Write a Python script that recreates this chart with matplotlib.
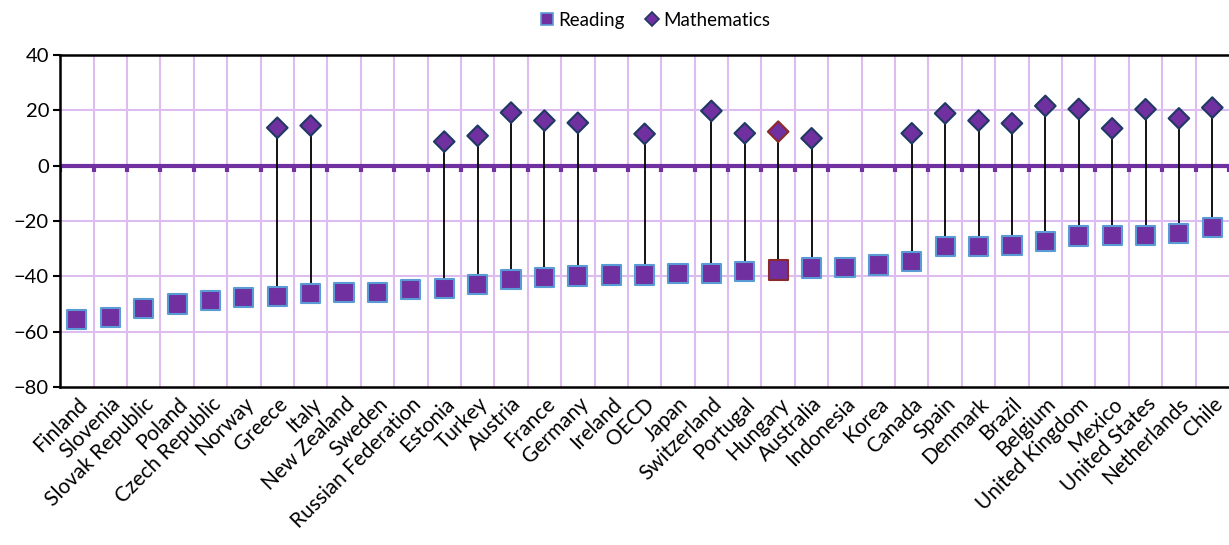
import matplotlib
matplotlib.use("Agg")
import matplotlib.pyplot as plt
from matplotlib.lines import Line2D
import numpy as np

countries = ["Finland", "Slovenia", "Slovak Republic", "Poland", "Czech Republic", "Norway",
             "Greece", "Italy", "New Zealand", "Sweden", "Russian Federation", "Estonia",
             "Turkey", "Austria", "France", "Germany", "Ireland", "OECD", "Japan",
             "Switzerland", "Portugal", "Hungary", "Australia", "Indonesia", "Korea",
             "Canada", "Spain", "Denmark", "Brazil", "Belgium", "United Kingdom", "Mexico",
             "United States", "Netherlands", "Chile"]

reading = [-55.5, -55.0, -51.5, -50.0, -48.8, -47.6, -47.4, -46.1, -46.0, -45.9, -44.9,
           -44.4, -43.1, -41.3, -40.5, -39.9, -39.5, -39.5, -39.1, -39.0, -38.3, -37.7,
           -37.0, -36.9, -35.9, -34.7, -29.3, -29.2, -29.0, -27.5, -25.4, -25.3, -25.1,
           -24.4, -22.4]

# nan = no mathematics marker for that country
nan = np.nan
maths = [nan, nan, nan, nan, nan, nan, 13.7, 14.5, nan, nan, nan, 8.7, 10.8, 19.2,
         16.3, 15.5, nan, 11.5, nan, 19.8, 11.7, 12.3, 9.9, nan, nan, 11.7, 18.9, 16.3,
         15.3, 21.6, 20.5, 13.5, 20.4, 17.1, 21.0]

highlight = "Hungary"

purple = "#7030A0"
grid_col = "#DDBDF0"

plt.rcParams['font.family'] = ['Lato', 'DejaVu Sans']

fig = plt.figure(figsize=(12.29, 5.45), dpi=100)
ax = fig.add_axes([0.049, 0.29, 0.951, 0.609])

x = np.arange(len(countries))
reading = np.array(reading)
maths = np.array(maths)
has_m = ~np.isnan(maths)

# grid
for yv in np.arange(-60, 40, 20):
    ax.axhline(yv, color=grid_col, lw=1.5, zorder=0)
ax.vlines(np.arange(0.5, len(countries) - 0.5, 1), -80, 40, color=grid_col, lw=1.5, zorder=0)

# zero line with its ticks
ax.axhline(0, color=purple, lw=3, zorder=2)
ax.vlines(np.arange(-0.5, len(countries) + 0.5, 1), -2.2, 0, color=purple, lw=3, zorder=2)

# stems between reading and maths
ax.vlines(x[has_m], reading[has_m], maths[has_m], color="black", lw=1.3, zorder=3)

edge_r = ["#8B2A2A" if c == highlight else "#5B9BD5" for c in countries]
edge_m = ["#8B2A2A" if c == highlight else "#1F3864" for c in countries]

ax.scatter(x, reading, marker="s", s=190, c=purple, edgecolors=edge_r, linewidths=1.5, zorder=4)
ax.scatter(x[has_m], maths[has_m], marker="D", s=110, c=purple,
           edgecolors=[e for e, h in zip(edge_m, has_m) if h], linewidths=1.5, zorder=4)

ax.set_xlim(-0.5, len(countries) - 0.5)
ax.set_ylim(-80, 40)
ax.set_yticks(np.arange(-80, 41, 20))
ax.set_xticks(x)
ax.set_xticklabels(countries, rotation=45, ha="right", rotation_mode="anchor", fontsize=15)
ax.tick_params(axis="x", length=0, pad=5)
ax.tick_params(axis="y", length=5, width=1.5, labelsize=14.5, pad=3)

for s in ["left", "top", "bottom"]:
    ax.spines[s].set_linewidth(1.8)
    ax.spines[s].set_color("black")
ax.spines["right"].set_visible(False)

handles = [Line2D([], [], marker="s", ls="none", markersize=8, markerfacecolor=purple,
                  markeredgecolor="#5B9BD5", markeredgewidth=1.2, label="Reading"),
           Line2D([], [], marker="D", ls="none", markersize=7, markerfacecolor=purple,
                  markeredgecolor="#1F3864", markeredgewidth=1.2, label="Mathematics")]
fig.legend(handles=handles, loc="center", bbox_to_anchor=(0.532, 0.963), ncol=2, frameon=False,
           fontsize=13.5, handletextpad=0.1, columnspacing=1.0, handlelength=1.0)

fig.savefig("out.png", dpi=100)
